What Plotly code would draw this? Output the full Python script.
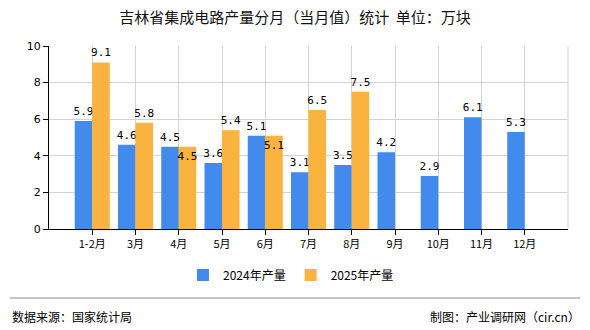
import plotly.graph_objects as go

categories = ["1-2月", "3月", "4月", "5月", "6月", "7月", "8月", "9月", "10月", "11月", "12月"]
values_2024 = [5.9, 4.6, 4.5, 3.6, 5.1, 3.1, 3.5, 4.2, 2.9, 6.1, 5.3]
values_2025 = [9.1, 5.8, 4.5, 5.4, 5.1, 6.5, 7.5, None, None, None, None]
y_ticks = [0, 2, 4, 6, 8, 10]

W, H = 590, 330
L, R, T, B = 49, 22, 46, 101
PW, PH = W - L - R, H - T - B

def px_x(x):
    return (x - L) / PW

def px_y(y):
    return (H - B - y) / PH

lab_font = dict(family="DejaVu Sans Mono, monospace", size=11, color="#000000")

pos2025 = []
for a, b in zip(values_2024, values_2025):
    if b is not None and a is not None and abs(a - b) < 0.05:
        pos2025.append("inside")
    else:
        pos2025.append("outside")

fig = go.Figure()
fig.add_trace(go.Bar(
    name="2024年产量", x=categories, y=values_2024,
    marker=dict(color="#428BEC", line=dict(width=0)),
    text=[f"{v:.1f}" for v in values_2024], textposition="outside",
    textangle=0, textfont=lab_font, cliponaxis=False,
))
fig.add_trace(go.Bar(
    name="2025年产量", x=categories, y=values_2025,
    marker=dict(color="#FBB33F", line=dict(width=0)),
    text=[f"{v:.1f}" if v is not None else "" for v in values_2025],
    textposition=pos2025, insidetextanchor="end", textangle=0,
    textfont=lab_font, insidetextfont=lab_font, outsidetextfont=lab_font,
    cliponaxis=False,
))

fig.update_layout(
    width=W, height=H,
    margin=dict(l=L, r=R, t=T, b=B),
    paper_bgcolor="white", plot_bgcolor="white",
    barmode="group", bargap=0.19, bargroupgap=0,
    font=dict(family="Noto Sans CJK SC, sans-serif", size=12, color="#000"),
    title=dict(text="吉林省集成电路产量分月（当月值）统计  单位：万块",
               x=0.5, xanchor="center", y=1 - 18 / H, yanchor="middle",
               font=dict(size=15, color="#111", family="Noto Sans CJK SC, sans-serif")),
    showlegend=True,
    legend=dict(orientation="h", x=px_x(291), xanchor="center", y=px_y(275), yanchor="middle",
                font=dict(size=12, color="#000"), itemwidth=30, traceorder="normal",
                itemsizing="constant"),
    uniformtext=dict(minsize=11, mode="show"),
)

fig.update_xaxes(
    type="category", range=[-1, 11],
    showline=True, linecolor="#000", linewidth=1,
    showgrid=True, gridcolor="#D3D3D3", gridwidth=1,
    ticks="outside", ticklen=5, tickcolor="#000",
    tickfont=dict(size=11, family="Noto Sans CJK SC, sans-serif", color="#000"),
    mirror=False, zeroline=False,
)
fig.update_yaxes(
    range=[0, 10], tickvals=y_ticks,
    showline=True, linecolor="#000", linewidth=1,
    showgrid=True, gridcolor="#D3D3D3", gridwidth=1,
    ticks="outside", ticklen=5, tickcolor="#000",
    tickfont=dict(size=11, family="DejaVu Sans, sans-serif", color="#000"),
    zeroline=False,
)

# right border of the plot
fig.add_shape(type="line", xref="paper", yref="paper", x0=1, x1=1, y0=0, y1=1,
              line=dict(color="#D3D3D3", width=1))

# footer line
fig.add_shape(type="line", xref="paper", yref="paper",
              x0=px_x(10), x1=px_x(580), y0=px_y(298), y1=px_y(298),
              line=dict(color="#888888", width=1))
fig.add_annotation(xref="paper", yref="paper", x=px_x(10), y=px_y(316),
                   xanchor="left", yanchor="middle", showarrow=False,
                   text="数据来源：国家统计局",
                   font=dict(size=12, color="#000", family="Noto Sans CJK SC, sans-serif"))
fig.add_annotation(xref="paper", yref="paper", x=px_x(582), y=px_y(316),
                   xanchor="right", yanchor="middle", showarrow=False,
                   text="制图：产业调研网（cir.cn）",
                   font=dict(size=12, color="#000", family="Noto Sans CJK SC, sans-serif"))

fig.write_html("out.html")
